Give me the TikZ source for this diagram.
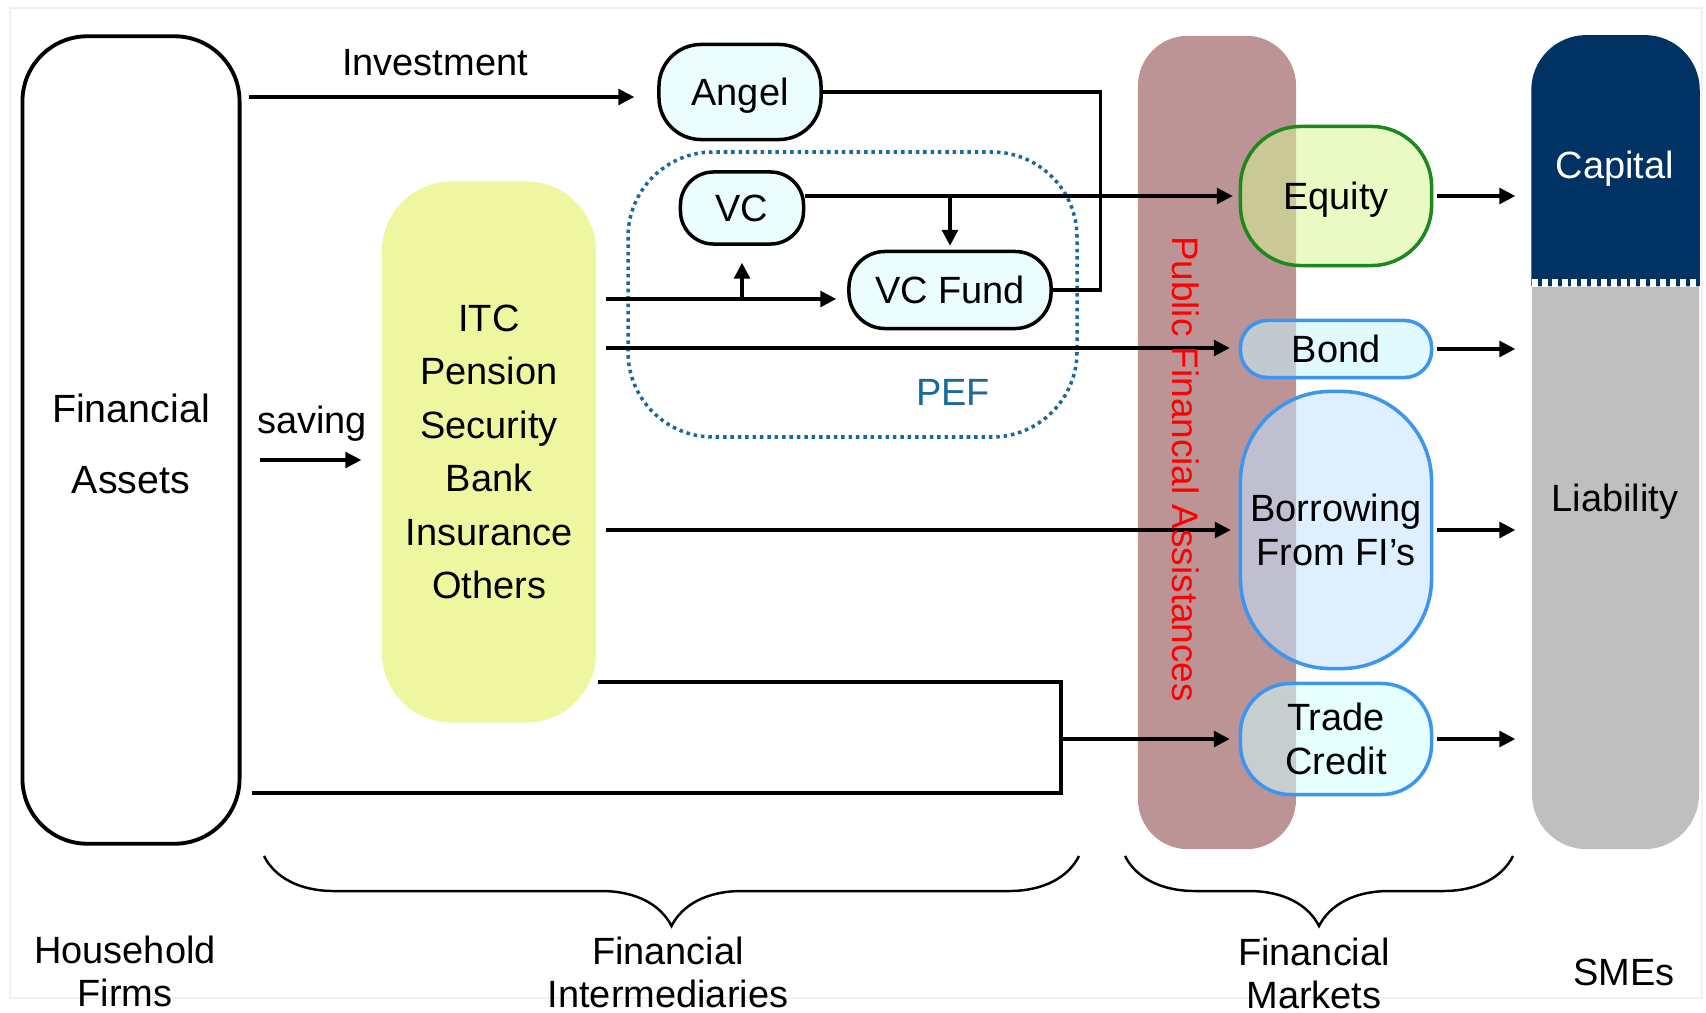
\documentclass[tikz,border=0pt]{standalone}
\usepackage{fontspec}
\setmainfont{Liberation Sans}
\usetikzlibrary{arrows.meta,decorations.pathreplacing}
\definecolor{itcyellow}{RGB}{238,246,160}
\definecolor{nodecyan}{RGB}{235,253,254}
\definecolor{pefblue}{RGB}{25,105,155}
\definecolor{pfabrown}{RGB}{188,148,150}
\definecolor{eqgreen}{RGB}{30,135,30}
\definecolor{eqfill}{RGB}{215,246,150}
\definecolor{mktblue}{RGB}{60,150,240}
\definecolor{bondfill}{RGB}{200,246,255}
\definecolor{borrowfill}{RGB}{195,228,255}
\definecolor{tradefill}{RGB}{209,255,255}
\definecolor{capnavy}{RGB}{0,50,100}
\definecolor{liabgray}{RGB}{191,191,191}

\begin{document}
\begin{tikzpicture}[x=0.01cm, y=-0.01cm,
  every node/.style={font=\fontsize{10.8}{13}\selectfont, inner sep=0pt},
  arr/.style={-{Triangle[length=4.5pt,width=4.5pt]}, line width=0.9pt},
  link/.style={line width=0.9pt},
  inst/.style={draw, line width=1pt, fill=nodecyan, text depth=0pt},
  mkt/.style={draw=mktblue, line width=1pt, fill opacity=0.55, text opacity=1, text depth=0pt,
    minimum width=1.91cm, align=center, font=\fontsize{10.8}{12.4}\selectfont},
  brc/.style={decorate, decoration={brace, mirror, amplitude=0.7cm}, line width=0.7pt},
  lbl/.style={align=center, font=\fontsize{10.8}{12.2}\selectfont}]
        \useasboundingbox (0,0) rectangle (1706,1012);
        \draw[black!6, line width=0.8pt] (10,8) rectangle (1702,998);

        \node[fill=pfabrown, rounded corners=0.5cm, minimum width=1.58cm, minimum height=8.13cm] (pfa) at (1217,442.5) {};
        \node[fill=liabgray, rounded corners=0.55cm, minimum width=1.67cm, minimum height=8.13cm] (sme) at (1615.5,442.5) {};
        \begin{scope}
          \clip (1500,0) rectangle (1720,285);
          \fill[capnavy, rounded corners=0.55cm] (sme.north west) rectangle (sme.south east);
        \end{scope}
        \coordinate (capl) at (1532,283);
        \coordinate (capr) at (1699,283);
        \draw[white, line width=2pt, dash pattern=on 1.7pt off 1.1pt] (capl) -- (capr);
        \node[text=white, text depth=0pt] (capital) at (1615,165) {Capital};
        \node[text depth=0pt] (liability) at (1615,498) {Liability};

        \node[draw, line width=1.1pt, rounded corners=0.65cm, minimum width=2.17cm, minimum height=8.07cm] (fa) at (131,440) {};
        \node[align=center, font=\fontsize{11.2}{20.4}\selectfont] (fatext) at (131,444) {Financial\\Assets};
        \node[fill=itcyellow, rounded corners=0.7cm, minimum width=2.14cm, minimum height=5.41cm,
          align=center, font=\fontsize{10.8}{15.2}\selectfont] (itc) at (489,452) {ITC\\Pension\\Security\\Bank\\Insurance\\Others};

        \node[inst, rounded corners=0.42cm, minimum width=1.62cm, minimum height=0.95cm] (angel) at (740,92) {Angel};
        \node[inst, rounded corners=0.33cm, minimum width=1.23cm, minimum height=0.72cm] (vc) at (742,208) {VC};
        \node[inst, rounded corners=0.36cm, minimum width=2.02cm, minimum height=0.77cm] (vcf) at (950,290) {VC Fund};
        \draw[pefblue, line width=1pt, dash pattern=on 1pt off 1.1pt, rounded corners=0.85cm] (628,152) rectangle (1077,437);
        \node[text=pefblue] (pef) at (953,392) {PEF};

        \node[mkt, draw=eqgreen, fill=eqfill, rounded corners=0.6cm, minimum height=1.39cm] (eq) at (1336,196) {Equity};
        \node[mkt, fill=bondfill, rounded corners=0.27cm, minimum height=0.57cm] (bond) at (1336,349) {Bond};
        \node[mkt, fill=borrowfill, rounded corners=0.9cm, minimum height=2.77cm] (borrow) at (1336,530) {Borrowing\\From FI’s};
        \node[mkt, fill=tradefill, rounded corners=0.5cm, minimum height=1.11cm] (trade) at (1336,739) {Trade\\Credit};

        \node (inv) at (435,63) {Investment};
        \node[text depth=0pt] (sav) at (312,420) {saving};
        \coordinate (invs) at (249,97);
        \coordinate (savs) at (260,460);
        \coordinate (itc1) at (606,299);
        \coordinate (itc2) at (606,348);
        \coordinate (itc3) at (606,530);
        \coordinate (itc4) at (598,682);
        \coordinate (fa2) at (252,793);
        \coordinate (jn) at (1061,793);

        \draw[arr, shorten >=0.23cm] (invs) -- (invs -| angel.west);
        \draw[arr, shorten >=0.2cm] (savs) -- (savs -| itc.west);
        \draw[link] (angel.east) -| ([xshift=0.48cm]vcf.east) -- (vcf.east);
        \draw[arr, shorten >=0.06cm] (vc.east |- eq.west) -- (eq.west);
        \draw[arr, shorten >=0.04cm] (vcf.north |- eq.west) -- (vcf.north);
        \draw[arr, shorten >=0.11cm] (itc1) -- (itc1 -| vcf.west);
        \draw[arr, shorten >=0.17cm] (itc1 -| vc.south) -- (vc.south);
        \draw[arr, shorten >=0.09cm] (itc2) -- (itc2 -| bond.west);
        \draw[arr, shorten >=0.08cm] (itc3) -- (itc3 -| borrow.west);
        \draw[link] (itc4) -| (jn) -- (fa2);
        \draw[arr, shorten >=0.09cm] (jn |- trade.west) -- (trade.west);
        \foreach \n in {eq, bond, borrow, trade}
        \draw[arr, shorten <=0.04cm, shorten >=0.16cm] (\n.east) -- (\n.east -| sme.west);

        \node[text=red, rotate=-90, font=\fontsize{10.5}{12}\selectfont] (pfalabel) at (1186,469) {Public Financial Assistances};

        \draw[brc] (264,856) -- (1079,856);
        \draw[brc] (1125,856) -- (1513,856);
        \node[lbl] (hh) at (125,971) {Household\\Firms};
        \node[lbl] (fi) at (668,972) {Financial\\Intermediaries};
        \node[lbl] (fm) at (1314,973) {Financial\\Markets};
        \node (smes) at (1624,972) {SMEs};
      \end{tikzpicture}
\end{document}
